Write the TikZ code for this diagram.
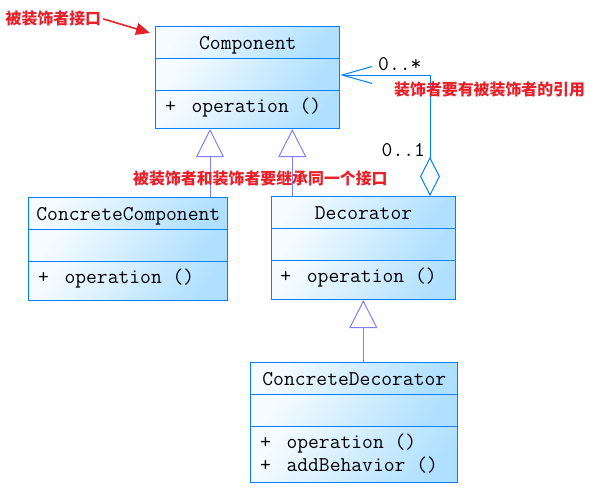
\documentclass[tikz,border=0pt]{standalone}
\usepackage{fontspec}
\newfontfamily\cjk{Noto Sans CJK SC}
\usetikzlibrary{arrows.meta}
\definecolor{umlblue}{HTML}{0080FF}
\definecolor{genblue}{HTML}{8080FF}
\definecolor{fillA}{HTML}{F5FBFF}
\definecolor{fillB}{HTML}{B0E0FF}
\definecolor{notered}{HTML}{E8202A}
\tikzset{
  compart/.style={draw=umlblue, line width=1pt, top color=fillA, bottom color=fillB,
    shading angle=55, inner sep=0pt, anchor=north west},
  umltext/.style={inner sep=0pt, font=\ttfamily\fontsize{21}{24}\selectfont, text=black},
  notetext/.style={inner sep=0pt, text=notered, font=\cjk\bfseries\fontsize{15.9}{18}\selectfont},
  gen/.style={draw=genblue, line width=1pt, -{Triangle[open, length=28pt, width=28pt]}},
  agg/.style={draw=umlblue, line width=1pt,
    {Diamond[open, length=39pt, width=20pt]}-{Straight Barb[length=30pt, width=17pt]}},
  notearrow/.style={draw=notered, fill=notered, line width=1.6pt, shorten <=2pt,
    -{Triangle[length=14pt, width=12pt]}}
}
% name prefix, x1, x2, y1, y2, y3, y4
\newcommand\umlclassbox[7]{%
  \node[compart, minimum width={(#3-#2)*1pt}, minimum height={(#5-#4)*1pt}] (#1T) at (#2,#4) {};
  \node[compart, minimum width={(#3-#2)*1pt}, minimum height={(#6-#5)*1pt}] (#1M) at (#2,#5) {};
  \node[compart, minimum width={(#3-#2)*1pt}, minimum height={(#7-#6)*1pt}] (#1B) at (#2,#6) {};
}
\newcommand\umlop[3]{% prefix, line offset, text
  \node[umltext, anchor=base west] at ([xshift=9.5pt,yshift={-(22+#2)*1pt}]#1B.north west) {+};
  \node[umltext, anchor=base west] at ([xshift=36pt,yshift={-(22+#2)*1pt}]#1B.north west) {#3};
}
\begin{document}
\begin{tikzpicture}[x=1pt,y=-1pt]
\useasboundingbox (0,0) rectangle (595,496);
\fill[white] (0,0) rectangle (595,496);

% Component
\umlclassbox{comp}{155.3}{339.3}{26}{58.3}{90.3}{128}
\node[umltext, anchor=base] at ([yshift=-23pt]compT.north) {Component};
\umlop{comp}{0}{operation ()}

% ConcreteComponent
\umlclassbox{cc}{28.3}{227.3}{197.3}{229.3}{261}{300}
\node[umltext, anchor=base] at ([yshift=-23pt]ccT.north) {ConcreteComponent};
\umlop{cc}{0}{operation ()}

% Decorator
\umlclassbox{dec}{270.7}{455.3}{196}{228.3}{260.3}{299}
\node[umltext, anchor=base] at ([yshift=-23pt]decT.north) {Decorator};
\umlop{dec}{0}{operation ()}

% ConcreteDecorator
\umlclassbox{cd}{250.3}{457.3}{362.3}{394.3}{426.3}{482.3}
\node[umltext, anchor=base] at ([yshift=-23pt]cdT.north) {ConcreteDecorator};
\umlop{cd}{0}{operation ()}
\umlop{cd}{23}{addBehavior ()}

% generalizations
\coordinate (gx1) at (210,0);
\coordinate (gx2) at (292.3,0);
\coordinate (gx3) at (363.3,0);
\draw[gen] (ccT.north -| gx1) -- (compB.south -| gx1);
\draw[gen] (decT.north -| gx2) -- (compB.south -| gx2);
\draw[gen] (cdT.north -| gx3) -- (decB.south -| gx3);

% aggregation
\coordinate (ax) at (430,0);
\coordinate (ay) at (0,75);
\draw[agg] (decT.north -| ax) |- (compM.east |- ay);
\node[umltext, anchor=base west] (mstar) at (378,70) {0..*};
\node[umltext, anchor=base west] (mone) at (381.5,156.7) {0..1};

% notes
\node[notetext, anchor=west] (n1) at (5.5,18.3) {被装饰者接口};
\coordinate (n1tip) at (150,33);
\draw[notearrow] (n1.east) -- (n1tip);
\node[notetext, anchor=west] (n2) at (133,178.3) {被装饰者和装饰者要继承同一个接口};
\node[notetext, anchor=west] (n3) at (394,89.3) {装饰者要有被装饰者的引用};
\end{tikzpicture}
\end{document}
